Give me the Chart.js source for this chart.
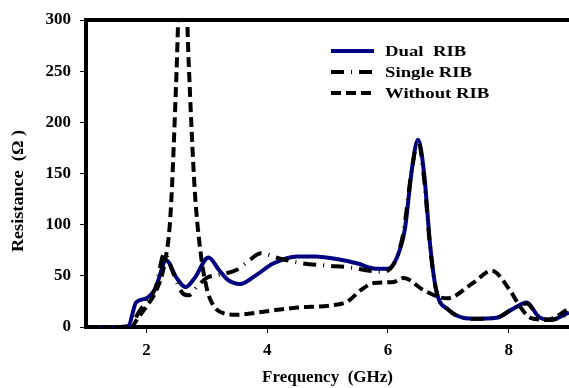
<!DOCTYPE html>
<html lang="en">
<head>
    <meta charset="UTF-8">
    <title>Resistance vs Frequency</title>
    <script src="https://cdn.jsdelivr.net/npm/chart.js"></script>
    <style>
        html, body { margin: 0; padding: 0; background: #fff; }
        #wrap { width: 569px; height: 388px; }
    </style>
</head>
<body>
    <div id="wrap"><canvas id="resChart"></canvas></div>

    <script>
        // values
        const dualFreq = [1.0, 1.5, 1.7, 1.83, 2.0, 2.15, 2.33, 2.5, 2.65, 2.8, 3.03, 3.2, 3.35, 3.55, 3.8, 4.1, 4.5, 4.8, 5.2, 5.5, 5.8, 6.0, 6.15, 6.28, 6.4, 6.5, 6.6, 6.7, 6.8, 7.0, 7.4, 7.8, 8.05, 8.3, 8.5, 8.7, 9.0];
        const dualRes  = [0, 0, 1, 24, 28, 38, 65, 48, 39, 48, 68, 56, 46, 42, 50, 62, 69, 69, 66, 62, 57, 57, 68, 95, 155, 183, 150, 80, 36, 17, 8, 9, 17, 24, 10, 7, 14];

        const singleFreq = [1.0, 1.5, 1.75, 1.85, 2.0, 2.15, 2.3, 2.45, 2.6, 2.7, 2.85, 3.0, 3.2, 3.5, 3.7, 3.9, 4.2, 4.6, 5.0, 5.4, 5.7, 5.9, 6.1, 6.25, 6.4, 6.5, 6.6, 6.7, 6.8, 7.0, 7.4, 7.8, 8.05, 8.3, 8.5, 8.7, 9.0];
        const singleRes  = [0, 0, 0, 12, 25, 38, 72, 52, 33, 31, 40, 48, 51, 56, 65, 72, 67, 62, 60, 58, 55, 54, 62, 90, 155, 182, 145, 78, 36, 17, 8, 9, 17, 23, 10, 7, 13];

        const withoutFreq = [1.0, 1.5, 1.75, 1.85, 2.0, 2.15, 2.3, 2.4, 2.5, 2.6, 2.7, 2.8, 2.9, 3.0, 3.1, 3.3, 3.5, 3.94, 4.5, 5.05, 5.33, 5.55, 5.77, 6.1, 6.26, 6.59, 6.98, 7.41, 7.72, 8.02, 8.19, 8.36, 8.64, 9.0];
        const withoutRes  = [0, 0, 0, 8, 20, 34, 62, 110, 250, 420, 260, 135, 72, 38, 22, 13, 12, 15, 19, 21, 25, 36, 43, 44, 48, 36, 28, 43, 55, 36, 20, 9, 7, 18];

        const seriesNames = ['Dual  RIB', 'Single RIB', 'Without RIB'];
        const yTitle = 'Resistance  (Ω )';
        const xTicks = [2, 4, 6, 8];
        const yTicks = [0, 50, 100, 150, 200, 250, 300];

        function toPoints(xs, ys) {
            return xs.map((x, i) => ({ x: x, y: ys[i] }));
        }

        const serif = '"Liberation Serif", "Times New Roman", serif';

        // legend inside the plot, y title and the top frame line
        const extras = {
            id: 'extras',
            afterDatasetsDraw(chart) {
                const ctx = chart.ctx;
                const x0 = 331, x1 = 374, tx = 385;
                const rows = [51, 72, 93];
                ctx.save();
                chart.data.datasets.forEach((ds, i) => {
                    const y = rows[i];
                    ctx.beginPath();
                    ctx.strokeStyle = ds.borderColor;
                    ctx.lineWidth = ds.borderWidth;
                    ctx.setLineDash(ds.borderDash || []);
                    ctx.moveTo(x0, y);
                    ctx.lineTo(x1, y);
                    ctx.stroke();
                    ctx.setLineDash([]);
                    ctx.save();
                    ctx.translate(tx, y + 1);
                    ctx.scale(1.25, 1);
                    ctx.fillStyle = '#000';
                    ctx.font = 'bold 15px ' + serif;
                    ctx.textBaseline = 'middle';
                    ctx.textAlign = 'left';
                    ctx.fillText(ds.label, 0, 0);
                    ctx.restore();
                });

                ctx.save();
                ctx.translate(19, 191);
                ctx.rotate(-Math.PI / 2);
                ctx.scale(1.3, 1.15);
                ctx.fillStyle = '#000';
                ctx.font = 'bold 14px ' + serif;
                ctx.textBaseline = 'middle';
                ctx.textAlign = 'center';
                ctx.fillText(yTitle, 0, 0);
                ctx.restore();

                const a = chart.chartArea;
                ctx.beginPath();
                ctx.strokeStyle = '#000';
                ctx.lineWidth = 4;
                ctx.moveTo(a.left - 2, a.top);
                ctx.lineTo(a.right, a.top);
                ctx.stroke();
                ctx.restore();
            }
        };

        const ctx = document.getElementById('resChart').getContext('2d');
        const chart = new Chart(ctx, {
            type: 'line',
            data: {
                datasets: [{
                    label: seriesNames[0],
                    data: toPoints(dualFreq, dualRes),
                    borderColor: '#000080',
                    borderWidth: 4,
                    order: 2
                }, {
                    label: seriesNames[1],
                    data: toPoints(singleFreq, singleRes),
                    borderColor: '#000',
                    borderWidth: 4,
                    borderDash: [13, 7, 1, 7],
                    order: 1
                }, {
                    label: seriesNames[2],
                    data: toPoints(withoutFreq, withoutRes),
                    borderColor: '#000',
                    borderWidth: 4,
                    borderDash: [10, 5],
                    order: 0
                }]
            },
            options: {
                responsive: true,
                maintainAspectRatio: false,
                animation: false,
                layout: { padding: { top: 20, right: 0, left: 0, bottom: 0 } },
                elements: {
                    point: { radius: 0 },
                    line: { cubicInterpolationMode: 'monotone', fill: false }
                },
                plugins: {
                    legend: { display: false },
                    tooltip: { enabled: false }
                },
                scales: {
                    x: {
                        type: 'linear',
                        min: 1,
                        max: 9,
                        afterBuildTicks: (s) => { s.ticks = xTicks.map(v => ({ value: v })); },
                        afterFit: (s) => { s.height = 61; },
                        grid: { drawOnChartArea: false, tickLength: 6, tickColor: '#000', tickWidth: 1 },
                        border: { display: true, color: '#000', width: 4 },
                        ticks: { color: '#000', padding: 7, font: { family: serif, size: 17, weight: 'bold' } },
                        title: {
                            display: true,
                            text: 'Frequency  (GHz)',
                            color: '#000',
                            padding: { top: 2, bottom: 0 },
                            font: { family: serif, size: 17, weight: 'bold' }
                        }
                    },
                    y: {
                        min: 0,
                        max: 300,
                        afterBuildTicks: (s) => { s.ticks = yTicks.map(v => ({ value: v })); },
                        afterFit: (s) => { s.width = 86; },
                        grid: { drawOnChartArea: false, tickLength: 6, tickColor: '#000', tickWidth: 1 },
                        border: { display: true, color: '#000', width: 4 },
                        ticks: { color: '#000', padding: 9, font: { family: serif, size: 17, weight: 'bold' } },
                        title: { display: false }
                    }
                }
            },
            plugins: [extras]
        });
    </script>
</body>
</html>
